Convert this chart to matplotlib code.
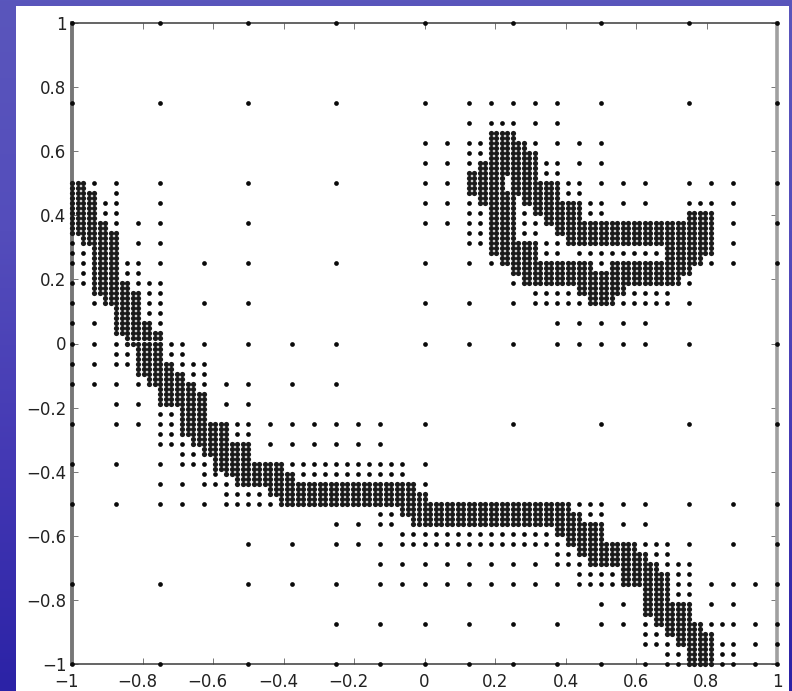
import numpy as np
import matplotlib
matplotlib.use("Agg")
import matplotlib.pyplot as plt
from matplotlib.colors import LinearSegmentedColormap
from matplotlib.patches import Rectangle
from matplotlib.transforms import ScaledTranslation

# Coarse nodes: row index (y in 1/32) -> column indices (x in 1/32)
coarse_nodes = {
    32: [-32, -24, -16, -8, 0, 8, 16, 24, 32],
    24: [-32, -24, -16, -8, 0, 4, 6, 8, 10, 12, 16, 24, 32],
    22: [4, 6, 7, 8, 10, 12],
    20: [0, 2, 4, 5, 10, 12, 14, 16],
    19: [4, 5],
    18: [0, 2, 4, 11, 12, 14, 16],
    17: [11, 12],
    16: [-30, -28, -24, -16, -8, 0, 2, 13, 14, 16, 18, 20, 24, 26, 28, 32],
    15: [-28, 13, 14],
    14: [-29, -28, -24, 0, 2, 4, 15, 16, 18, 20, 24, 25, 26, 28],
    13: [-29, -28, 4, 5, 9, 15, 16],
    12: [-28, -26, -24, -16, 0, 2, 4, 5, 9, 10, 28, 32],
    11: [4, 5, 9, 10],
    10: [-32, -26, -24, 4, 5, 11, 12, 28],
    9: [-32, -31, 11, 12, 14, 15, 16, 17, 18, 19, 20, 21],
    8: [-32, -31, -27, -26, -24, -20, -16, -8, 0, 4, 6, 16, 26, 28, 32],
    7: [-31, -27, -26],
    6: [-32, -31, -26, -25, -24, 8, 24],
    5: [-25, -24, 10, 11, 12, 13, 19, 20, 21, 22],
    4: [-32, -30, -25, -24, -20, -16, 0, 4, 8, 10, 11, 12, 13, 14, 18, 19, 20, 21, 22, 24],
    3: [-25, -24],
    2: [-32, -30, -24, 12, 14, 16, 18, 20],
    0: [-32, -30, -28, -23, -22, -20, -16, -12, -8, 0, 4, 8, 12, 14, 16, 18, 20, 24, 32],
    -1: [-28, -27, -23, -22],
    -2: [-32, -30, -28, -27, -22, -21, -20],
    -3: [-21, -20],
    -4: [-32, -30, -28, -26, -20, -18, -16, -12, -8],
    -6: [-28, -26, -18, -16],
    -7: [-24, -23],
    -8: [-32, -28, -26, -24, -23, -17, -16, -14, -12, -10, -8, -6, -4, 0, 8, 16, 24, 32],
    -9: [-24, -23, -17, -16],
    -10: [-24, -23, -22, -14, -12, -10, -8, -6, -4],
    -11: [-22, -21],
    -12: [-32, -28, -24, -22, -21, -20, -12, -11, -10, -9, -8, -7, -6, -5, -4, -3, -2, 0],
    -13: [-20, -19, -11, -10, -9, -8, -7, -6, -5, -4, -3, -2],
    -14: [-24, -22, -20, -19, -18, 0],
    -15: [-18, -17, -16, -15],
    -16: [-32, -28, -24, -22, -20, -18, -17, -16, -15, -14, 14, 15, 16, 18, 20, 24, 28, 32],
    -17: [-4, -3, 15, 16],
    -18: [-8, -6, -4, -3, 18, 20],
    -19: [-2, -1, 0, 1, 2, 3, 4, 5, 6, 7, 8, 9, 10, 11],
    -20: [-16, -12, -8, -6, -4, -2, -1, 0, 1, 2, 3, 4, 5, 6, 7, 8, 9, 10, 11, 12, 20, 21, 22, 24, 28, 32],
    -21: [12, 13, 21, 22],
    -22: [-4, -2, 0, 2, 4, 6, 8, 10, 12, 13, 14, 22, 23, 24],
    -23: [14, 15, 16, 17, 23, 24],
    -24: [-32, -24, -16, -12, -8, -4, -2, 0, 2, 4, 6, 8, 10, 12, 14, 15, 16, 17, 23, 24, 26, 28, 30, 32],
    -25: [23, 24],
    -26: [16, 18, 26, 28],
    -28: [-8, -4, 0, 4, 8, 12, 16, 18, 20, 26, 27, 28, 30, 32],
    -29: [20, 21],
    -30: [20, 21, 22, 27, 28, 30, 32],
    -31: [22, 23, 27, 28],
    -32: [-32, -24, -16, -8, -4, 0, 4, 8, 12, 16, 20, 22, 23, 27, 28, 30, 32],
}

# Refined nodes: row index (y in 1/64) -> inclusive column runs (x in 1/64)
lower_front_rows = {
    32: [(-64, -62)], 31: [(-64, -62)], 30: [(-64, -60)], 29: [(-64, -60)], 28: [(-64, -60)],
    27: [(-64, -60)], 26: [(-64, -60)], 25: [(-64, -60)], 24: [(-64, -58)], 23: [(-64, -58)],
    22: [(-64, -56)], 21: [(-62, -56)], 20: [(-62, -56)], 19: [(-60, -56)], 18: [(-60, -56)],
    17: [(-60, -56)], 16: [(-60, -56)], 15: [(-60, -56)], 14: [(-60, -56)], 13: [(-60, -56)],
    12: [(-60, -54)], 11: [(-60, -54)], 10: [(-60, -52)], 9: [(-58, -52)], 8: [(-58, -52)],
    7: [(-56, -52)], 6: [(-56, -52)], 5: [(-56, -52)], 4: [(-56, -50)], 3: [(-56, -50)],
    2: [(-56, -48)], 1: [(-54, -48)], 0: [(-54, -48)], -1: [(-52, -48)], -2: [(-52, -48)],
    -3: [(-52, -48)], -4: [(-52, -46)], -5: [(-52, -46)], -6: [(-52, -44)], -7: [(-50, -44)],
    -8: [(-50, -42)], -9: [(-48, -42)], -10: [(-48, -40)], -11: [(-48, -40)], -12: [(-48, -40)],
    -13: [(-44, -40)], -14: [(-44, -40)], -15: [(-44, -40)], -16: [(-44, -36)], -17: [(-44, -36)],
    -18: [(-44, -36)], -19: [(-42, -36)], -20: [(-42, -32)], -21: [(-40, -32)], -22: [(-40, -32)],
    -23: [(-38, -32)], -24: [(-38, -26)], -25: [(-38, -26)], -26: [(-36, -24)], -27: [(-34, -24)],
    -28: [(-34, -2)], -29: [(-28, -2)], -30: [(-28, 0)], -31: [(-26, 0)], -32: [(-26, 26)],
    -33: [(-4, 26)], -34: [(-4, 28)], -35: [(-2, 28)], -36: [(-2, 32)], -37: [(24, 32)],
    -38: [(24, 32)], -39: [(26, 32)], -40: [(26, 38)], -41: [(28, 38)], -42: [(28, 40)],
    -43: [(30, 40)], -44: [(30, 42)], -45: [(36, 42)], -46: [(36, 44)], -47: [(36, 44)],
    -48: [(36, 44)], -49: [(40, 44)], -50: [(40, 44)], -51: [(40, 44)], -52: [(40, 48)],
    -53: [(40, 48)], -54: [(40, 48)], -55: [(42, 48)], -56: [(42, 50)], -57: [(44, 50)],
    -58: [(44, 52)], -59: [(46, 52)], -60: [(46, 52)], -61: [(48, 52)], -62: [(48, 52)],
    -63: [(48, 52)], -64: [(48, 52)],
}
upper_front_rows = {
    42: [(12, 16)], 41: [(12, 16)], 40: [(12, 18)], 39: [(12, 18)], 38: [(12, 20)], 37: [(12, 20)],
    36: [(10, 20)], 35: [(10, 20)], 34: [(8, 20)], 33: [(8, 14), (16, 20)],
    32: [(8, 14), (16, 24)], 31: [(8, 14), (16, 24)], 30: [(8, 24)],
    29: [(10, 16), (18, 24)], 28: [(10, 16), (18, 28)], 27: [(12, 16), (20, 28)],
    26: [(12, 16), (20, 28), (48, 52)], 25: [(12, 16), (22, 28), (48, 52)],
    24: [(12, 16), (22, 52)], 23: [(12, 16), (24, 52)], 22: [(12, 16), (24, 52)],
    21: [(12, 16), (26, 52)], 20: [(12, 20), (26, 52)], 19: [(12, 20), (44, 52)],
    18: [(12, 20), (44, 52)], 17: [(14, 20), (44, 50)], 16: [(14, 30), (34, 50)],
    15: [(16, 30), (34, 48)], 14: [(16, 48)], 13: [(18, 46)], 12: [(18, 46)],
    11: [(28, 36)], 10: [(28, 36)], 9: [(30, 34)], 8: [(30, 34)],
}
tick_values = [-1, -0.8, -0.6, -0.4, -0.2, 0, 0.2, 0.4, 0.6, 0.8, 1]
tick_labels = ["\u22121", "\u22120.8", "\u22120.6", "\u22120.4", "\u22120.2", "0", "0.2", "0.4", "0.6", "0.8", "1"]

W, H = 792, 691
fig = plt.figure(figsize=(W / 100, H / 100), dpi=100)

bg = fig.add_axes([0, 0, 1, 1], zorder=0)
cmap = LinearSegmentedColormap.from_list("slide", ["#5a56bc", "#544dbb", "#4439b4", "#2b22a6"])
bg.imshow(np.linspace(0, 1, 256)[:, None], aspect="auto", cmap=cmap, extent=[0, W, H, 0])
bg.add_patch(Rectangle((16, 6), 772.5, 685, facecolor="white", edgecolor="none"))
bg.set_xlim(0, W)
bg.set_ylim(H, 0)
bg.axis("off")

ax = fig.add_axes([72 / W, 1 - 664 / H, 705 / W, 641 / H], zorder=1)
ax.patch.set_alpha(0)

coarse_x, coarse_y = [], []
for row, cols in coarse_nodes.items():
    coarse_x.extend(c / 32 for c in cols)
    coarse_y.extend([row / 32] * len(cols))
fine_x, fine_y = [], []
for rows in (lower_front_rows, upper_front_rows):
    for row, runs in rows.items():
        for c0, c1 in runs:
            for c in range(c0, c1 + 1):
                fine_x.append(c / 64)
                fine_y.append(row / 64)

ax.plot(coarse_x, coarse_y, linestyle="none", marker="o", ms=3.4, mew=0, color="#0a0a0a", clip_on=False, zorder=5)
ax.plot(fine_x, fine_y, linestyle="none", marker="o", ms=3.75, mew=0, color="#1a1a1a", clip_on=False, zorder=5)
ax.set_xlim(-1, 1)
ax.set_ylim(-1, 1)

ax.set_xticks(tick_values)
ax.set_xticklabels(tick_labels)
ax.set_yticks(tick_values)
ax.set_yticklabels(tick_labels)
ax.tick_params(axis="both", which="major", direction="in", length=4.5, width=0.7, color="#777777",
               top=True, right=True, labelcolor="#222222", labelsize=12)
ax.tick_params(axis="x", pad=6.5)
ax.tick_params(axis="y", pad=4)
for lab in ax.get_xticklabels() + ax.get_yticklabels():
    lab.set_fontfamily("DejaVu Sans")
for lab, v in zip(ax.get_xticklabels(), tick_values):
    if v < 0:
        lab.set_transform(lab.get_transform() + ScaledTranslation(-5.5 / 100, 0, fig.dpi_scale_trans))

ax.spines["left"].set_linewidth(2.8)
ax.spines["left"].set_color("#777777")
ax.spines["right"].set_linewidth(2.6)
ax.spines["right"].set_color("#a0a0a0")
ax.spines["top"].set_linewidth(1.1)
ax.spines["top"].set_color("#3a3a3a")
ax.spines["bottom"].set_linewidth(1.1)
ax.spines["bottom"].set_color("#3a3a3a")

fig.savefig("out.png", dpi=100)
